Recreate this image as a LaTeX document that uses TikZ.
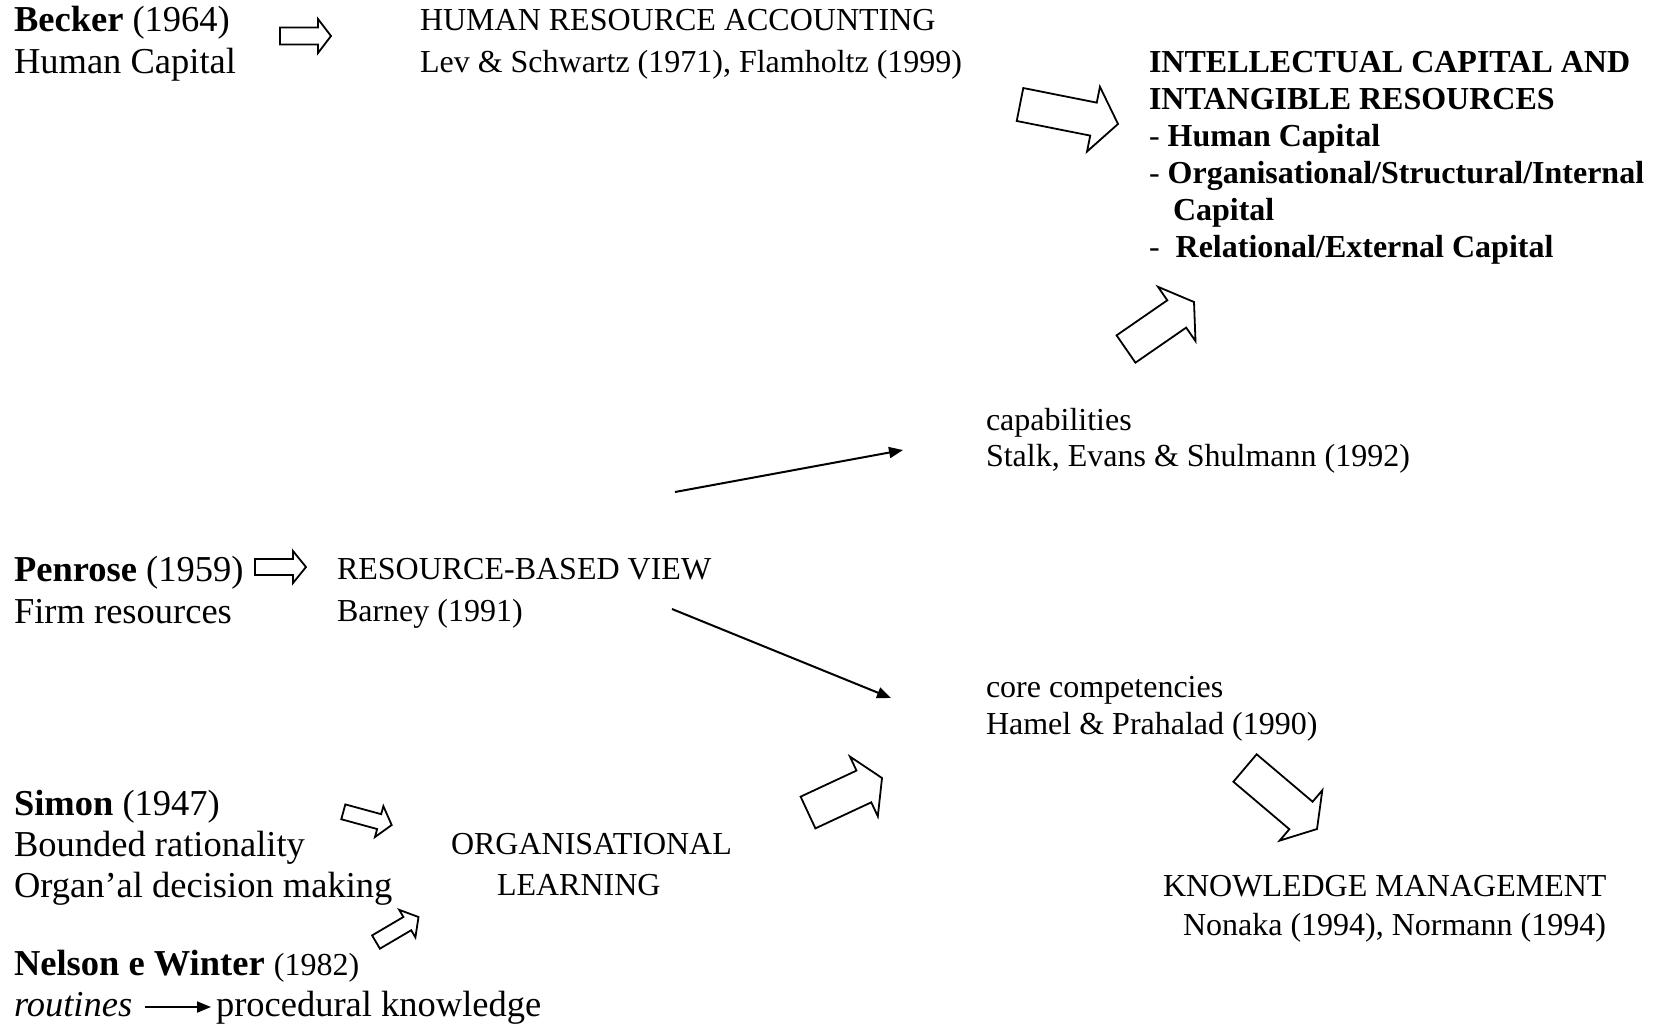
\documentclass[tikz,border=0pt]{standalone}
\usepackage{fontspec}
\setmainfont{Liberation Serif}
\usetikzlibrary{calc,arrows.meta}

% Hollow block arrow: #1 name, #2 tail centre, #3 tip,
% #4 half shaft width, #5 half head width, #6 head length
\newcommand{\blockarrow}[6]{%
  \coordinate (#1-tail) at #2;
  \coordinate (#1-tip) at #3;
  \coordinate (#1-hb) at ($(#1-tip)!#6!(#1-tail)$);
  \draw[blockarr]
    ($(#1-tail)!#4!90:(#1-tip)$) --
    ($(#1-hb)!#4!-90:(#1-tail)$) --
    ($(#1-hb)!#5!-90:(#1-tail)$) --
    (#1-tip) --
    ($(#1-hb)!#5!90:(#1-tail)$) --
    ($(#1-hb)!#4!90:(#1-tail)$) --
    ($(#1-tail)!#4!-90:(#1-tip)$) -- cycle;
}

\begin{document}
\begin{tikzpicture}[x=0.5pt,y=-0.5pt,
  % nodes are placed by the baseline of their last line
  txt/.style={inner sep=0pt, outer sep=0pt, anchor=base west, align=left},
  fs/.style 2 args={font=\fontsize{#1}{#2}\selectfont},
  blockarr/.style={draw=black, line width=0.9pt, fill=white, line join=miter},
  thinarr/.style={line width=1pt, -{Triangle[length=7pt,width=5.5pt]}}]
\useasboundingbox (0,0) rectangle (1653,1024);

% origins (left column, larger type)
\node[txt, fs={18.25pt}{21pt}] (becker) at (14,73) {\textbf{Becker} (1964)\\Human Capital};
\node[txt, fs={18.25pt}{21pt}] (penrose) at (14,623) {\textbf{Penrose} (1959)\\Firm resources};
\node[txt, fs={18.25pt}{20.5pt}] (simon) at (14,897) {\textbf{Simon} (1947)\\Bounded rationality\\Organ’al decision making};
\node[txt, fs={18.25pt}{21pt}] (nelson) at (14,975.5) {\textbf{Nelson e Winter} {\fontsize{16pt}{19pt}\selectfont(1982)}};
\node[txt, fs={18.25pt}{21pt}] (routines) at (14,1016) {\textit{routines}};
\node[txt, fs={18.25pt}{21pt}] (proc) at (216,1016) {procedural knowledge};

% schools and concepts
\node[txt, fs={16pt}{21pt}] (hra) at (420,72) {HUMAN RESOURCE ACCOUNTING\\Lev \& Schwartz (1971), Flamholtz (1999)};
\node[txt, fs={16pt}{18.5pt}] (ic) at (1149,257) {\bfseries INTELLECTUAL CAPITAL AND\\\bfseries INTANGIBLE RESOURCES\\- \bfseries Human Capital\\- \bfseries Organisational/Structural/Internal\\\bfseries\ \ \ Capital\\-\ \ \bfseries Relational/External Capital};
\node[txt, fs={16pt}{18pt}] (cap) at (986,466) {capabilities\\Stalk, Evans \& Shulmann (1992)};
\node[txt, fs={16pt}{21pt}] (rbv) at (337,621) {RESOURCE-BASED VIEW\\Barney (1991)};
\node[txt, fs={16pt}{18.5pt}] (core) at (986,734) {core competencies\\Hamel \& Prahalad (1990)};
\node[txt, fs={16pt}{20.5pt}] (orgl) at (451,895.5) {ORGANISATIONAL\\\hspace*{23pt}LEARNING};
\node[txt, fs={16pt}{19.5pt}] (km) at (1163,935) {KNOWLEDGE MANAGEMENT\\\hspace*{10pt}Nonaka (1994), Normann (1994)};

% hollow block arrows
\blockarrow{becker-hra}{(280,36)}{(331,36)}{4.25pt}{8.5pt}{6.5pt}
\blockarrow{hra-ic}{(1020,104.5)}{(1118,124)}{8.4pt}{16.5pt}{12.5pt}
\blockarrow{cap-ic}{(1126,349)}{(1194,302)}{8.3pt}{16.5pt}{10.5pt}
\blockarrow{penrose-rbv}{(255,567)}{(306,567)}{4pt}{8pt}{6.5pt}
\blockarrow{orgl-core}{(808,812.5)}{(882,778)}{8.75pt}{16.5pt}{10pt}
\blockarrow{core-km}{(1245,768)}{(1317,829)}{9pt}{16.5pt}{10.5pt}
\blockarrow{simon-orgl}{(343.3,811.8)}{(391.7,825)}{3.85pt}{8pt}{6.5pt}
\blockarrow{nelson-orgl}{(376,942)}{(418.5,917)}{3.85pt}{8pt}{6.5pt}

% thin arrows out of the resource-based view
\coordinate (rbv-up) at (675,492);
\coordinate (cap-in) at (903,450);
\coordinate (rbv-down) at (672,609);
\coordinate (core-in) at (891,698);
\draw[thinarr] (rbv-up) -- (cap-in);
\draw[thinarr] (rbv-down) -- (core-in);

% routines lead to procedural knowledge
\coordinate (routines-out) at (145,1007);
\coordinate (proc-in) at (211,1007);
\draw[thinarr] (routines-out) -- (proc-in);
\end{tikzpicture}
\end{document}
